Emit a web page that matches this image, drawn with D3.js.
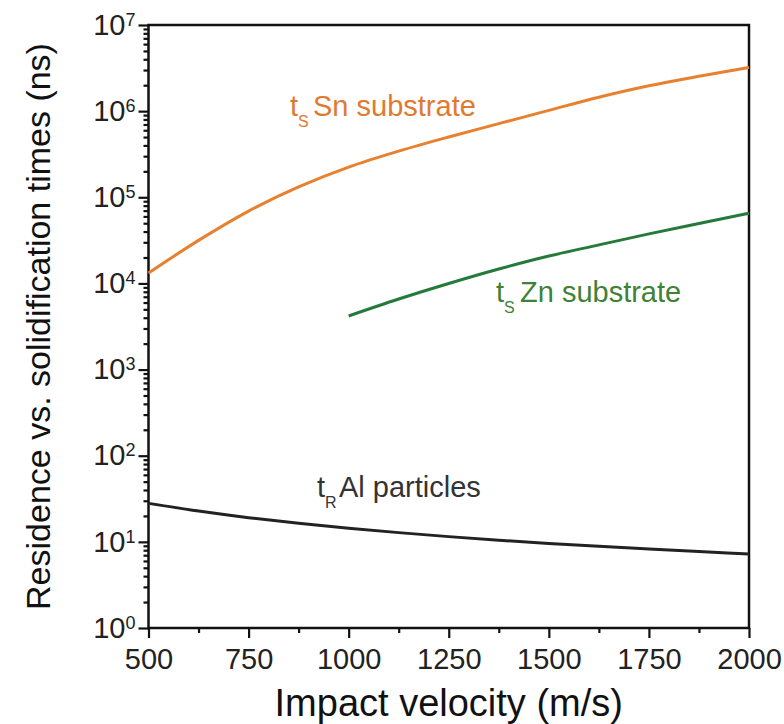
<!DOCTYPE html>
<html>
<head>
<meta charset="utf-8">
<script src="https://cdn.jsdelivr.net/npm/d3@7"></script>
<style>
  body { margin: 0; background: #fff; }
  svg text { font-family: "Liberation Sans", Arial, sans-serif; }
</style>
</head>
<body>
<div id="chart"></div>
<script>
// values
const velocity = [500, 625, 750, 875, 1000, 1125, 1250, 1375, 1500, 1625, 1750, 1875, 2000];
const tsSn = [13200, 31600, 69200, 132000, 224000, 343000, 501000, 716000, 1020000, 1450000, 1970000, 2540000, 3210000];
const velocityZn = [1000, 1125, 1250, 1375, 1500, 1625, 1750, 1875, 2000];
const tsZn = [4190, 6590, 9980, 14700, 20800, 28000, 37600, 49600, 65200];
const trAl = [28, 22.8, 19.1, 16.4, 14.4, 12.8, 11.5, 10.45, 9.6, 8.87, 8.26, 7.73, 7.24];

const xTicks = [500, 750, 1000, 1250, 1500, 1750, 2000];
const xMinor = [625, 875, 1125, 1375, 1625, 1875];
const yExponents = [0, 1, 2, 3, 4, 5, 6, 7];

const W = 784, H = 724;
const margin = { top: 25, right: 35, bottom: 96, left: 148.5 },
  width = W - margin.left - margin.right,
  height = H - margin.top - margin.bottom;

const svg = d3
  .select("#chart")
  .append("svg")
  .attr("width", W)
  .attr("height", H)
  .append("g")
  .attr("transform", `translate(${margin.left},${margin.top})`);

const x = d3.scaleLinear().domain([500, 2000]).range([0, width]);
const y = d3.scaleLog().domain([1, 1e7]).range([height, 0]);

// minor log ticks
const yMinor = [];
yExponents.slice(0, -1).forEach((e) => {
  for (let k = 2; k <= 9; k++) yMinor.push(k * Math.pow(10, e));
});

// minor ticks first
svg
  .append("g")
  .call(d3.axisLeft(y).tickValues(yMinor).tickSize(5).tickFormat(""));

svg
  .append("g")
  .attr("transform", `translate(0,${height})`)
  .call(d3.axisBottom(x).tickValues(xMinor).tickSize(5).tickFormat(""));

// y axis with 10^n labels
const yAxis = svg
  .append("g")
  .call(
    d3
      .axisLeft(y)
      .tickValues(yExponents.map((e) => Math.pow(10, e)))
      .tickSize(10)
      .tickPadding(3)
      .tickFormat("")
  );

yAxis
  .selectAll(".tick text")
  .style("font-size", "29px")
  .attr("fill", "#222")
  .attr("dy", "0.32em")
  .each(function (d) {
    const t = d3.select(this);
    t.append("tspan").text("10");
    t.append("tspan")
      .style("font-size", "18px")
      .attr("dy", "-9")
      .text(Math.round(Math.log10(d)));
  });

// x axis
svg
  .append("g")
  .attr("transform", `translate(0,${height})`)
  .call(
    d3
      .axisBottom(x)
      .tickValues(xTicks)
      .tickSize(10)
      .tickPadding(10)
      .tickFormat(d3.format("d"))
  )
  .selectAll("text")
  .style("font-size", "29px")
  .attr("fill", "#222");

svg.selectAll(".domain").remove();
svg.selectAll(".tick line").attr("stroke", "#111").attr("stroke-width", 2.2);

// frame
svg
  .append("rect")
  .attr("width", width)
  .attr("height", height)
  .attr("fill", "none")
  .attr("stroke", "#111")
  .attr("stroke-width", 2.5);

// curves
const line = d3
  .line()
  .x((d) => x(d[0]))
  .y((d) => y(d[1]))
  .curve(d3.curveMonotoneX);

svg
  .append("path")
  .datum(d3.zip(velocity, tsSn))
  .attr("d", line)
  .attr("fill", "none")
  .attr("stroke", "#E8812F")
  .attr("stroke-width", 3);

svg
  .append("path")
  .datum(d3.zip(velocityZn, tsZn))
  .attr("d", line)
  .attr("fill", "none")
  .attr("stroke", "#25793A")
  .attr("stroke-width", 3);

svg
  .append("path")
  .datum(d3.zip(velocity, trAl))
  .attr("d", line)
  .attr("fill", "none")
  .attr("stroke", "#222")
  .attr("stroke-width", 3);

// curve labels: t, subscript, rest
function curveLabel(px, py, sub, rest, restX, color) {
  const t = svg
    .append("text")
    .attr("x", px - margin.left)
    .attr("y", py - margin.top)
    .attr("fill", color)
    .style("font-size", "29px");
  t.append("tspan").text("t");
  t.append("tspan").attr("dy", 11).style("font-size", "16px").text(sub);
  t.append("tspan").attr("x", restX - margin.left).attr("dy", -11).text(rest);
}

curveLabel(290, 116, "S", "Sn substrate", 313, "#E07A30");
curveLabel(496, 302, "S", "Zn substrate", 520, "#3F8236");
curveLabel(317, 497, "R", "Al particles", 339, "#333");

// axis titles
svg
  .append("text")
  .attr("x", width / 2)
  .attr("y", height + 88)
  .attr("text-anchor", "middle")
  .attr("fill", "#111")
  .style("font-size", "38px")
  .text("Impact velocity (m/s)");

svg
  .append("text")
  .attr("transform", `translate(${50 - margin.left},${height / 2}) rotate(-90)`)
  .attr("text-anchor", "middle")
  .attr("fill", "#111")
  .style("font-size", "34px")
  .text("Residence vs. solidification times (ns)");
</script>
</body>
</html>
